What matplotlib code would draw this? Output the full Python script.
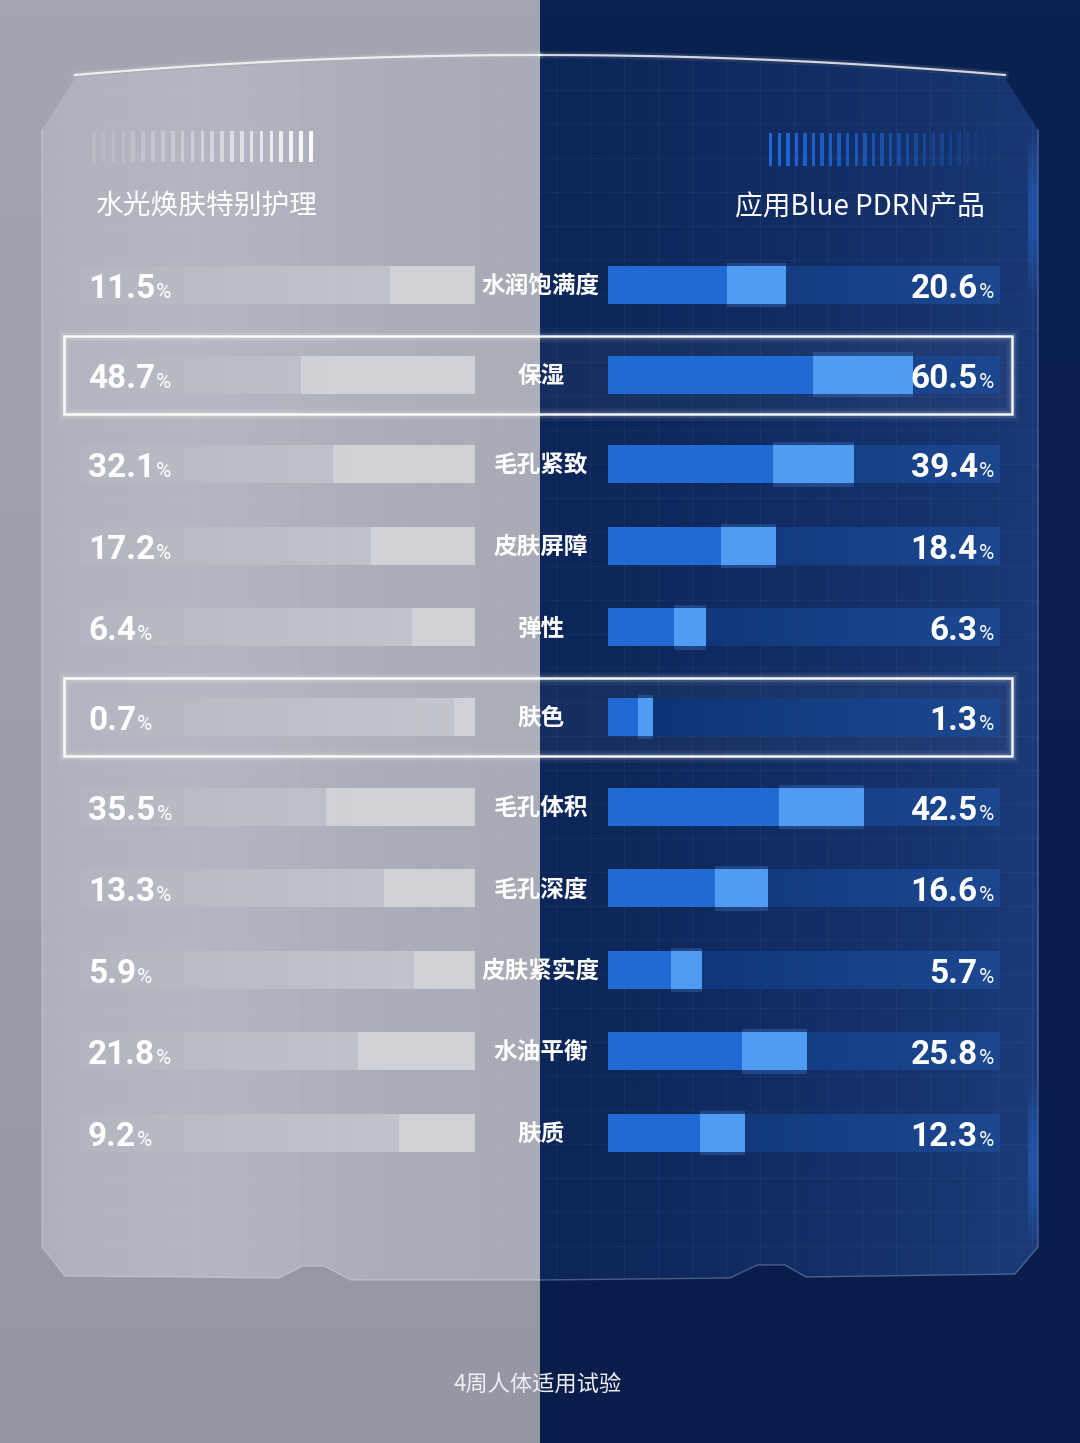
import numpy as np
import matplotlib.pyplot as plt
from matplotlib.patches import Polygon, Rectangle
from matplotlib.colors import to_rgb

plt.rcParams['font.family'] = ['Noto Sans CJK SC', 'DejaVu Sans']

# data
categories = ['水润饱满度', '保湿', '毛孔紧致', '皮肤屏障', '弹性', '肤色',
              '毛孔体积', '毛孔深度', '皮肤紧实度', '水油平衡', '肤质']
left_values = [11.5, 48.7, 32.1, 17.2, 6.4, 0.7, 35.5, 13.3, 5.9, 21.8, 9.2]
right_values = [20.6, 60.5, 39.4, 18.4, 6.3, 1.3, 42.5, 16.6, 5.7, 25.8, 12.3]
highlighted = ['保湿', '肤色']
left_title = '水光焕肤特别护理'
right_title = '应用Blue PDRN产品'
footnote = '4周人体适用试验'

# layout (pixels)
W, H = 1080, 1443
L_X0, L_X1 = 80, 475
R_X0, R_X1 = 608, 1000
ROW_TOP, ROW_BOT, BAR_H = 285, 1133, 38
BOX_PAD = 0.1  # extra room (in rows) on each side of a boxed row
n = len(categories)

# row positions in "row units": boxed rows get a little extra space around them
ypos = []
acc = 0.0
for i, cat in enumerate(categories):
    if cat in highlighted:
        acc += BOX_PAD
    ypos.append(i + acc)
    if cat in highlighted:
        acc += BOX_PAD
ypos = np.array(ypos)
row_px = (ROW_BOT - ROW_TOP) / ypos[-1]
row_y = ROW_TOP + ypos * row_px


def grad(c0, c1, nx=200, ny=2, horizontal=True):
    a, b = np.array(to_rgb(c0)), np.array(to_rgb(c1))
    t = np.linspace(0, 1, nx if horizontal else ny)
    if horizontal:
        img = a + (b - a) * t[None, :, None]
        return np.repeat(img, ny, axis=0)
    img = a + (b - a) * t[:, None, None]
    return np.repeat(img, nx, axis=1)


def pixel_axes(z):
    a = fig.add_axes([0, 0, 1, 1], zorder=z)
    a.set_xlim(0, W)
    a.set_ylim(H, 0)
    a.axis('off')
    a.patch.set_alpha(0)
    return a


fig = plt.figure(figsize=(W / 100, H / 100), dpi=100)
bg = pixel_axes(0)

# two halves
bg.imshow(grad('#a2a6b1', '#9498a4', nx=2, ny=100, horizontal=False),
          extent=(0, 540, H, 0), aspect='auto', zorder=0)
bg.imshow(grad('#0b2152', '#0a1d4a', nx=2, ny=100, horizontal=False),
          extent=(540, W, H, 0), aspect='auto', zorder=0)

# panel outlines
xs = np.linspace(540, 75, 30)
top_l = list(zip(xs, 58 + 20 * ((540 - xs) / 465) ** 2))
left_pts = top_l + [(42, 130), (42, 1247), (65, 1276), (279, 1278), (303, 1266),
                    (324, 1266), (351, 1280), (540, 1280)]
xs = np.linspace(540, 1005, 30)
top_r = list(zip(xs, 58 + 20 * ((xs - 540) / 465) ** 2))
right_pts = top_r + [(1038, 130), (1038, 1247), (1015, 1274), (806, 1277), (785, 1265),
                     (757, 1265), (730, 1278), (540, 1280)]

# panel fills
gx = np.linspace(0, 1, 300)
gy = np.linspace(0, 1, 300)
GX, GY = np.meshgrid(gx, gy)
base = np.array(to_rgb('#aaaeb8'))
sheen = 0.035 * np.exp(-((GX - 0.3) / 0.3) ** 2) - 0.01 * GX
left_img = np.clip(base + sheen[..., None], 0, 1)
lp = Polygon(left_pts, closed=True, facecolor='none', edgecolor='none')
bg.add_patch(lp)
im = bg.imshow(left_img, extent=(42, 540, 1280, 58), aspect='auto', zorder=1)
im.set_clip_path(lp)

c0, c1 = np.array(to_rgb('#0d2659')), np.array(to_rgb('#1b3b79'))
t = GX ** 1.4 * (0.8 + 0.2 * GY)
right_img = c0 + (c1 - c0) * t[..., None]
rp = Polygon(right_pts, closed=True, facecolor='none', edgecolor='none')
bg.add_patch(rp)
im = bg.imshow(right_img, extent=(540, 1038, 1280, 58), aspect='auto', zorder=1)
im.set_clip_path(rp)

# faint grid on panels
for gxv in np.arange(556, 1038, 34):
    ln, = bg.plot([gxv, gxv], [58, 1280], color='white', alpha=0.05, lw=0.8, zorder=1.5)
    ln.set_clip_path(rp)
for gxv in np.arange(60, 540, 34):
    ln, = bg.plot([gxv, gxv], [58, 1280], color='white', alpha=0.04, lw=0.8, zorder=1.5)
    ln.set_clip_path(lp)
for gyv in np.arange(90, 1280, 34):
    ln, = bg.plot([540, 1038], [gyv, gyv], color='white', alpha=0.04, lw=0.8, zorder=1.5)
    ln.set_clip_path(rp)
    ln, = bg.plot([42, 540], [gyv, gyv], color='white', alpha=0.03, lw=0.8, zorder=1.5)
    ln.set_clip_path(lp)

# panel edge highlights
for pts, col in [(left_pts, '#d8dae0'), (right_pts, '#8fa6d0')]:
    p = np.array(pts)
    bg.plot(p[:30, 0], p[:30, 1] - 3, color='white', lw=1.6, alpha=0.8, zorder=2)
    bg.plot(p[:30, 0], p[:30, 1] - 3, color='white', lw=5, alpha=0.1, zorder=2)
    bg.plot(p[30:, 0], p[30:, 1], color=col, lw=1.0, alpha=0.45, zorder=2)

# right edge blue glow
glow = np.zeros((100, 2, 4))
glow[..., :3] = to_rgb('#2a64c8')
glow[..., 3] = (0.55 * np.sin(np.linspace(0, np.pi, 100)))[:, None]
for y0, y1 in [(130, 300), (1080, 1247)]:
    bg.imshow(glow, extent=(1028, 1038, y1, y0), aspect='auto', zorder=2)

# stripe decorations
for i, sx in enumerate(np.linspace(92, 309, 23)):
    bg.add_patch(Rectangle((sx, 131), 3.6, 31, color='white',
                           alpha=0.1 + 0.85 * (i / 22) ** 1.5, lw=0, zorder=2))
for i, sx in enumerate(np.linspace(769, 1000, 28)):
    bg.add_patch(Rectangle((sx, 133), 3.4, 33, color='#1d6be0',
                           alpha=max(0.0, 0.95 - 0.95 * (i / 27) ** 1.2), lw=0, zorder=2))

# tracks
for y in row_y:
    bg.imshow(grad('#b4b7c1', '#c8cad0'), extent=(L_X0, L_X1, y + BAR_H / 2, y - BAR_H / 2),
              aspect='auto', alpha=0.9, zorder=3)
    bg.imshow(grad('#0c3174', '#1d4890'), extent=(R_X0, R_X1, y + BAR_H / 2, y - BAR_H / 2),
              aspect='auto', zorder=3)

# highlight boxes
for i, cat in enumerate(categories):
    if cat in highlighted:
        y = row_y[i]
        for lw, a in [(9, 0.06), (5, 0.12), (1.8, 0.95)]:
            bg.add_patch(Rectangle((64, y - 39), 948, 78, fill=False, edgecolor='white',
                                   lw=lw, alpha=a, zorder=4))
        bg.add_patch(Rectangle((64, y - 39), 948, 78, color='white', alpha=0.04, lw=0, zorder=2.5))

# bar axes (sqrt scale so small values stay visible)
sqrt_scale = (lambda v: np.sqrt(np.clip(v, 0, None)), lambda v: np.square(v))
span = ypos[-1] + 1
ax_h = span * row_px / H
ax_b = 1 - (ROW_BOT + row_px / 2) / H
axl = fig.add_axes([L_X0 / W, ax_b, (L_X1 - L_X0) / W, ax_h], zorder=1)
axr = fig.add_axes([R_X0 / W, ax_b, (R_X1 - R_X0) / W, ax_h], zorder=1)
for ax in (axl, axr):
    ax.set_xscale('function', functions=sqrt_scale)
    ax.set_ylim(ypos[-1] + 0.5, -0.5)
    ax.axis('off')
    ax.patch.set_alpha(0)
axl.set_xlim(250, 0)
axr.set_xlim(0, 100)

bh = BAR_H / row_px
axl.barh(ypos, left_values, height=bh, color='#d2d3d8', alpha=0.95, zorder=3)
axr.barh(ypos, right_values, height=bh, color='#1f6bd3', zorder=3)
starts = np.array(right_values) * 0.45
axr.barh(ypos, np.array(right_values) - starts, left=starts, height=bh + 0.08,
         color='#4f9cf2', alpha=0.25, zorder=3)
axr.barh(ypos, np.array(right_values) - starts, left=starts, height=bh,
         color='#4f9cf2', zorder=4)

# all text on a top layer
top = pixel_axes(2)
top.text(96, 206, left_title, color='white', fontsize=20, va='center', ha='left')
top.text(985, 208, right_title, color='white', fontsize=20, va='center', ha='right')

num_font = dict(family=['Roboto', 'DejaVu Sans'], weight='bold', color='white')
pct_font = dict(family=['Roboto', 'DejaVu Sans'], color='white')
left_nums = []
right_pcts = []
for i, cat in enumerate(categories):
    y = row_y[i] + 13
    top.text(541, row_y[i] + 1, cat, color='white', fontsize=17, weight='bold',
             ha='center', va='center')
    left_nums.append(top.text(88, y, f'{left_values[i]}', fontsize=24, ha='left',
                              va='baseline', **num_font))
    right_pcts.append(top.text(994, y, '%', fontsize=15, ha='right', va='baseline', **pct_font))

fig.canvas.draw()
r = fig.canvas.get_renderer()
for i in range(n):
    y = row_y[i] + 13
    bb = left_nums[i].get_window_extent(r)
    top.text(bb.x1 + 1, y, '%', fontsize=15, ha='left', va='baseline', **pct_font)
    bb = right_pcts[i].get_window_extent(r)
    top.text(bb.x0 - 1, y, f'{right_values[i]}', fontsize=24, ha='right', va='baseline', **num_font)

top.text(538, 1384, footnote, color='#eef0f5', fontsize=16, ha='center', va='center')

fig.savefig('out.png', dpi=100)
